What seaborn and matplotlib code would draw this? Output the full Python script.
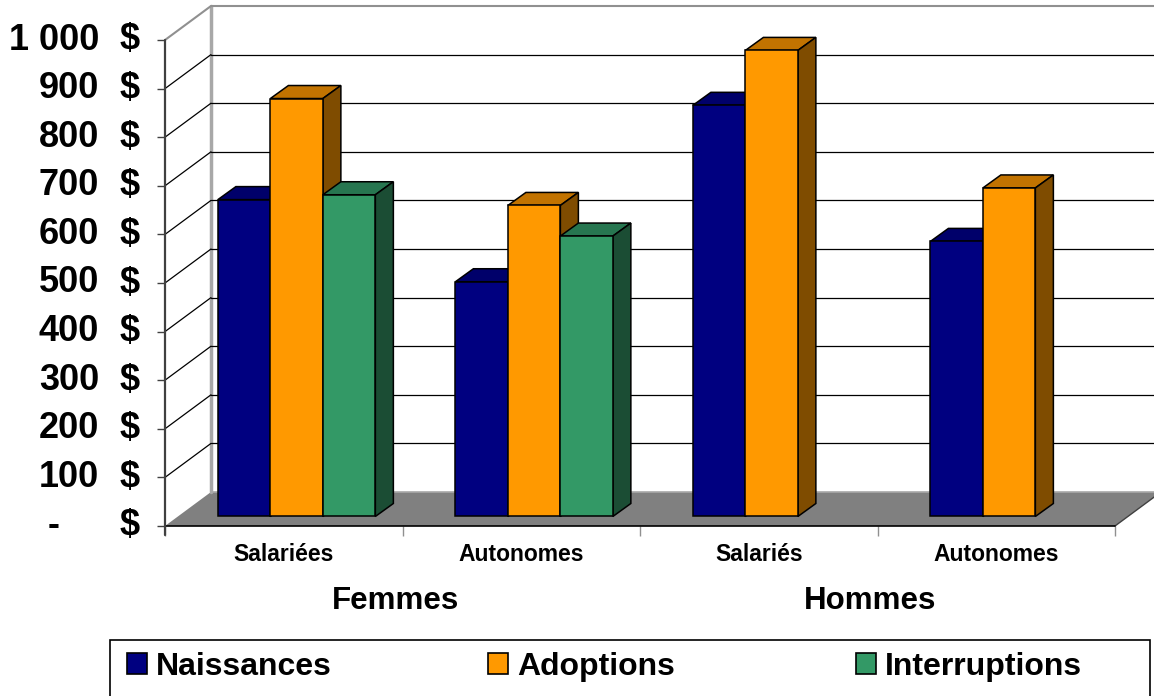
import numpy as np
import pandas as pd
import seaborn as sns
import matplotlib.pyplot as plt
import matplotlib.colors as mcolors
from matplotlib.patches import Polygon, Rectangle, Patch
from matplotlib.transforms import blended_transform_factory

# donnees
groupes = ['Femmes', 'Hommes']
categories = ['F-Salariées', 'F-Autonomes', 'H-Salariés', 'H-Autonomes']
etiquettes = ['Salariées', 'Autonomes', 'Salariés', 'Autonomes']
series = ['Naissances', 'Adoptions', 'Interruptions']
naissances = [652, 483, 846, 566]
adoptions = [860, 640, 959, 676]
interruptions = [662, 577, np.nan, np.nan]
yticks = [0, 100, 200, 300, 400, 500, 600, 700, 800, 900, 1000]
ytick_labels = ['-', '100', '200', '300', '400', '500', '600', '700', '800', '900', '1 000']

couleurs = ['#000080', '#FF9900', '#339966']
dessus = {'#000080': '#00006A', '#ff9900': '#C27300', '#339966': '#277650'}
cotes = {'#000080': '#000050', '#ff9900': '#7F4C00', '#339966': '#1B4D34'}

lignes = []
for s, vals in zip(series, [naissances, adoptions, interruptions]):
    for c, v in zip(categories, vals):
        if not np.isnan(v):
            lignes.append((c, s, v))
dados = pd.DataFrame(lignes, columns=['cat', 'serie', 'val'])

sns.set_style('white')
plt.rcParams['font.family'] = ['Liberation Sans', 'DejaVu Sans']
plt.rcParams['text.color'] = 'black'
plt.rcParams['xtick.labelcolor'] = 'black'
plt.rcParams['ytick.labelcolor'] = 'black'

W, H = 1154, 696
fig = plt.figure(figsize=(W / 100, H / 100), dpi=100)
ax = fig.add_axes([165 / W, (H - 526) / H, 950 / W, 486 / H])

sns.barplot(data=dados, x='cat', y='val', hue='serie', order=categories,
            hue_order=series, palette=couleurs, width=0.663, saturation=1,
            edgecolor='black', linewidth=1.1, errorbar=None, legend=False, ax=ax)

ax.set_xlim(-0.5, 3.5)
ax.set_ylim(0, 1000)

# decalage de profondeur (effet 3D)
DX, DY = 46 / 237.5, 34 / 0.486
f = 0.28
SX, SY = f * DX, f * DY
BDX, BDY = 18 / 237.5, 13 / 0.486

# sol, murs et quadrillage
ax.add_patch(Polygon([(-0.5, 0), (3.5, 0), (3.5 + DX, DY), (-0.5 + DX, DY)],
                     closed=True, facecolor='#808080', edgecolor='none',
                     zorder=1, clip_on=False))
ax.plot([-0.5 + DX, 3.5 + DX], [DY, DY], color='#a8a8a8', lw=1.2, zorder=1.5, clip_on=False)
ax.plot([3.5, 3.5 + DX], [0, DY], color='#404040', lw=1, zorder=1.5, clip_on=False)
ax.plot([-0.5, 3.5], [0, 0], color='black', lw=1.2, zorder=1.6, clip_on=False)
for v in yticks[1:-1]:
    ax.plot([-0.5 + DX, 3.5 + DX], [v + DY, v + DY], color='black', lw=0.9, zorder=2, clip_on=False)
    ax.plot([-0.5, -0.5 + DX], [v, v + DY], color='black', lw=0.9, zorder=2, clip_on=False)
ax.plot([-0.5, -0.5 + DX, 3.5 + DX], [1000, 1000 + DY, 1000 + DY],
        color='#909090', lw=1.5, zorder=2, clip_on=False)
ax.plot([-0.5 + DX, -0.5 + DX], [DY, 1000 + DY], color='#a8a8a8', lw=2.5, zorder=1.2, clip_on=False)
ax.plot([-0.5, -0.5], [-18.5, 1000], color='#404040', lw=1.6, zorder=3, clip_on=False)

# barres 3D
barres = sorted([p for p in ax.patches if isinstance(p, Rectangle)], key=lambda p: p.get_x())
for i, p in enumerate(barres):
    x0, w, h = p.get_x() + SX, p.get_width(), p.get_height()
    p.set_x(x0)
    p.set_y(SY)
    cle = mcolors.to_hex(p.get_facecolor())
    top = SY + h
    ax.add_patch(Polygon([(x0, top), (x0 + BDX, top + BDY), (x0 + w + BDX, top + BDY), (x0 + w, top)],
                         closed=True, facecolor=dessus[cle], edgecolor='black', lw=1.1,
                         zorder=10 + 3 * i, clip_on=False))
    ax.add_patch(Polygon([(x0 + w, SY), (x0 + w + BDX, SY + BDY), (x0 + w + BDX, top + BDY), (x0 + w, top)],
                         closed=True, facecolor=cotes[cle], edgecolor='black', lw=1.1,
                         zorder=10 + 3 * i + 1, clip_on=False))
    p.set_zorder(10 + 3 * i + 2)
    p.set_clip_on(False)

for s in ax.spines.values():
    s.set_visible(False)

# axe vertical
ax.set_yticks(yticks)
ax.set_yticklabels([])
ax.tick_params(axis='y', length=6, width=1, color='#404040', left=True)
trans = blended_transform_factory(fig.transFigure, ax.transData)
for v, lab in zip(yticks, ytick_labels):
    xl = 60 if lab == '-' else 99
    ax.text(xl / W, v, lab, ha='right', va='center', transform=trans, fontsize=26,
            fontweight='bold', color='black')
    ax.text(140 / W, v, '$', ha='right', va='center', transform=trans, fontsize=26,
            fontweight='bold', color='black')

# axe horizontal
ax.set_xticks(range(len(categories)))
ax.set_xticklabels(etiquettes, fontsize=16.5, fontweight='bold', color='black')
ax.set_xticks([-0.5, 0.5, 1.5, 2.5, 3.5], minor=True)
ax.tick_params(axis='x', which='major', length=0, pad=12)
ax.tick_params(axis='x', which='minor', length=7, width=1, color='#909090', bottom=True)
ax.set_xlabel('')
ax.set_ylabel('')

trans_x = blended_transform_factory(ax.transData, fig.transFigure)
for g, xg in zip(groupes, [0.5, 2.5]):
    ax.text(xg - 0.03, (H - 601) / H, g, ha='center', va='center', transform=trans_x,
            fontsize=22.5, fontweight='bold', color='black')

# legende
fig.patches.append(Rectangle((110 / W, -10 / H), 1040 / W, 66 / H, transform=fig.transFigure,
                             fill=False, edgecolor='black', lw=1.2))
for c, s, xs in zip(couleurs, series, [127, 488, 856]):
    fig.legend([Patch(facecolor=c, edgecolor='black', linewidth=1.2)], [s], frameon=False,
               loc='center left', bbox_to_anchor=(xs / W, (H - 667) / H), borderpad=0,
               borderaxespad=0, handlelength=0.63, handleheight=0.63, handletextpad=0.28,
               prop={'size': 23, 'weight': 'bold'}, labelcolor='black')

plt.savefig('out.png', dpi=100)
